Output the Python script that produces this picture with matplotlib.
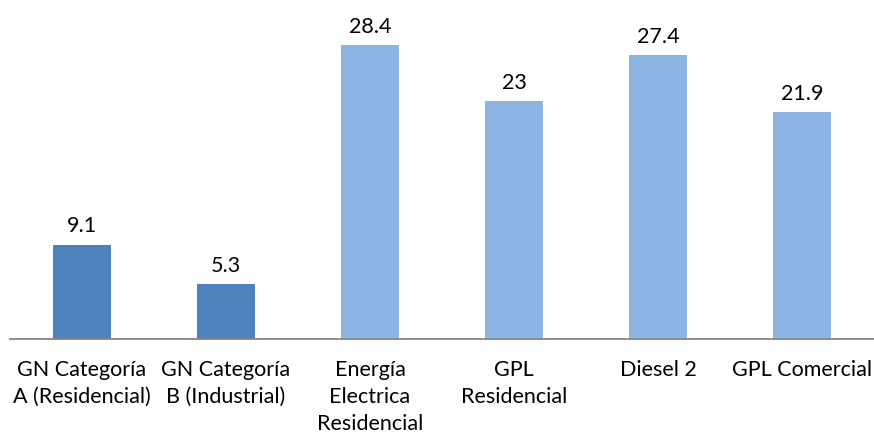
import matplotlib.pyplot as plt

categories = ["GN Categoría\nA (Residencial)", "GN Categoría\nB (Industrial)",
              "Energía\nElectrica\nResidencial", "GPL\nResidencial",
              "Diesel 2", "GPL Comercial"]
values = [9.1, 5.3, 28.4, 23, 27.4, 21.9]
labels = ["9.1", "5.3", "28.4", "23", "27.4", "21.9"]
colors = ["#4F81BD", "#4F81BD", "#8EB4E3", "#8EB4E3", "#8EB4E3", "#8EB4E3"]

plt.rcParams['font.family'] = ['Lato', 'DejaVu Sans']

fig = plt.figure(figsize=(8.74, 4.4), dpi=100)
ax = fig.add_axes([10 / 874, 101 / 440, 864 / 874, 310.5 / 440])

x = range(len(values))
bars = ax.bar(x, values, width=0.4, color=colors)
for b, lab in zip(bars, labels):
    ax.annotate(lab, (b.get_x() + b.get_width() / 2, b.get_height()),
                xytext=(0, 6), textcoords='offset points',
                ha='center', va='bottom', fontsize=15.5)

ax.set_xlim(-0.5, len(values) - 0.5)
ax.set_ylim(0, 30)
ax.set_xticks(list(x))
ax.set_xticklabels(categories, fontsize=15.5, linespacing=1.45, va='top')
ax.tick_params(axis='x', length=0, pad=15)
ax.set_yticks([])
for s in ['top', 'right', 'left']:
    ax.spines[s].set_visible(False)
ax.spines['bottom'].set_color('#868686')
ax.spines['bottom'].set_linewidth(1.3)

fig.savefig("out.png", dpi=100)
